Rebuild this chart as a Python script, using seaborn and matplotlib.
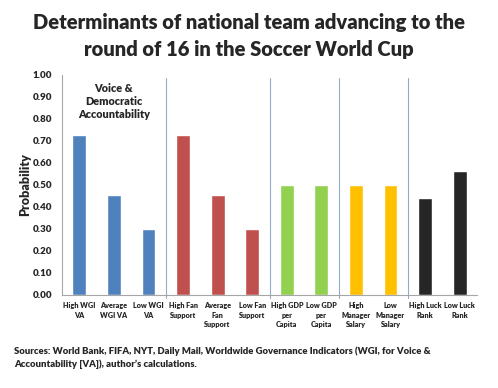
import matplotlib
matplotlib.use("Agg")
import matplotlib.pyplot as plt
import seaborn as sns
import pandas as pd

categories = ["High WGI\nVA", "Average\nWGI VA", "Low WGI\nVA",
              "High Fan\nSupport", "Average\nFan\nSupport", "Low Fan\nSupport",
              "High GDP\nper\nCapita", "Low GDP\nper\nCapita",
              "High\nManager\nSalary", "Low\nManager\nSalary",
              "High Luck\nRank", "Low Luck\nRank"]
probabilities = [0.727, 0.455, 0.30,
                 0.727, 0.455, 0.30,
                 0.50, 0.50,
                 0.50, 0.50,
                 0.44, 0.565]
colors = ["#4F81BD"] * 3 + ["#C0504D"] * 3 + ["#92D050"] * 2 + ["#FFC000"] * 2 + ["#262626"] * 2
yticks = [0.0, 0.1, 0.2, 0.3, 0.4, 0.5, 0.6, 0.7, 0.8, 0.9, 1.0]
separators = [2.5, 5.5, 7.5, 9.5]

sns.set_theme(style="white")
plt.rcParams['font.family'] = ['Lato', 'DejaVu Sans']

df = pd.DataFrame({"cat": categories, "p": probabilities})

fig = plt.figure(figsize=(4.98, 3.88), dpi=100)
ax = fig.add_axes([62/498, 1 - 295/388, (477-62)/498, (295-75)/388])

sns.barplot(data=df, x="cat", y="p", hue="cat", palette=colors, legend=False,
            width=0.4, ax=ax, saturation=1)

W = "heavy"
ax.set_xlim(-0.5, len(categories) - 0.5)
ax.set_ylim(0, 1.0)
ax.set_yticks(yticks)
ax.set_yticklabels([f"{v:.2f}" for v in yticks], fontsize=7, fontweight=W)
ax.set_xticks(range(len(categories)))
ax.set_xticklabels(categories, fontsize=5.25, fontweight=W, linespacing=1.45)
ax.tick_params(axis="y", length=0, pad=7)
ax.tick_params(axis="x", length=0, pad=5)
ax.set_xlabel("")
ax.set_ylabel("Probability", fontsize=9, fontweight=W, labelpad=1)

for s in ["top", "right"]:
    ax.spines[s].set_visible(False)
for s in ["left", "bottom"]:
    ax.spines[s].set_color("#A6A6A6")
    ax.spines[s].set_linewidth(0.8)

for xs in separators:
    ax.plot([xs, xs], [-0.015, 0.985], color="#95A9C9", lw=0.8, clip_on=False)

ax.text(1, 0.965, "Voice &\nDemocratic\nAccountability", ha="center", va="top",
        fontsize=7.8, fontweight=W, linespacing=1.25)

fig.text(0.5, 1 - 36/388, "Determinants of national team advancing to the\nround of 16 in the Soccer World Cup",
         ha="center", va="center", fontsize=14.5, fontweight=W, linespacing=1.45)

fig.text(14/498, 1 - 358/388,
         "Sources: World Bank, FIFA, NYT, Daily Mail, Worldwide Governance Indicators (WGI, for Voice &\nAccountability [VA]), author\u2019s calculations.",
         ha="left", va="center", fontsize=6.8, fontweight=W, linespacing=1.5)

fig.savefig("out.png", dpi=100)
